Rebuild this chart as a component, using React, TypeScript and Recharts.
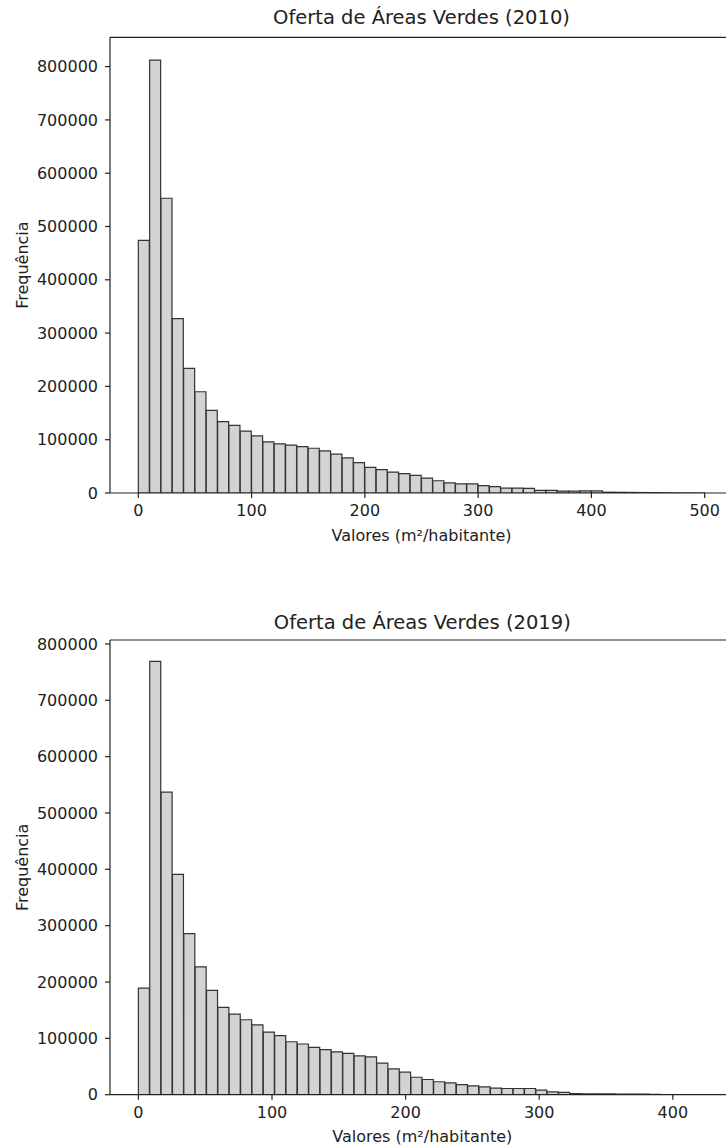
import React from 'react';
import { ComposedChart, Bar, XAxis, YAxis, ReferenceLine, Label } from 'recharts';

// Histogram 2010: bin left edges (width 10)
const binStarts2010 = [
  0, 10, 20, 30, 40, 50, 60, 70, 80, 90,
  100, 110, 120, 130, 140, 150, 160, 170, 180, 190,
  200, 210, 220, 230, 240, 250, 260, 270, 280, 290,
  300, 310, 320, 330, 340, 350, 360, 370, 380, 390,
  400, 410, 420, 430, 440, 450, 460, 470, 480, 490,
];
const binWidth2010 = 10;
const counts2010 = [
  474000, 812000, 553000, 327000, 234000, 190000, 155000, 134000, 127000, 116000,
  107000, 96000, 92000, 90000, 87000, 84000, 79000, 73000, 66000, 57000,
  48000, 44000, 39000, 36500, 33000, 28000, 23000, 19000, 17000, 17000,
  14000, 12000, 9000, 9000, 8500, 5000, 5000, 3500, 3500, 4000,
  4000, 1500, 1300, 1100, 900, 700, 500, 150, 80, 30,
];

// Histogram 2019: bin left edges (width 8.5)
const binStarts2019 = [
  0, 8.5, 17, 25.5, 34, 42.5, 51, 59.5, 68, 76.5,
  85, 93.5, 102, 110.5, 119, 127.5, 136, 144.5, 153, 161.5,
  170, 178.5, 187, 195.5, 204, 212.5, 221, 229.5, 238, 246.5,
  255, 263.5, 272, 280.5, 289, 297.5, 306, 314.5, 323, 331.5,
  340, 348.5, 357, 365.5, 374, 382.5, 391, 399.5, 408, 416.5,
];
const binWidth2019 = 8.5;
const counts2019 = [
  189000, 769000, 537000, 391000, 286000, 227000, 185000, 155000, 143000, 133000,
  124000, 111000, 105000, 94000, 90000, 84000, 80000, 76000, 73500, 69000,
  67000, 56000, 46000, 40000, 31000, 27000, 23000, 21000, 18000, 15500,
  14000, 11500, 11000, 11000, 11000, 8000, 5000, 4000, 2000, 1700,
  1500, 1300, 1200, 1000, 900, 800, 200, 150, 100, 80,
];

const xTicks2010 = [0, 100, 200, 300, 400, 500];
const xTicks2019 = [0, 100, 200, 300, 400];
const yTicks = [0, 100000, 200000, 300000, 400000, 500000, 600000, 700000, 800000];

const FONT = 'DejaVu Sans, Verdana, sans-serif';
const TXT = '#222';

type HistProps = {
  title: string;
  starts: number[];
  binWidth: number;
  counts: number[];
  xDomain: [number, number];
  xTicks: number[];
  yMax: number;
  top: number;
  height: number;
  marginTop: number;
  marginBottom: number;
  marginRight: number;
  titleOffset: number;
};

function Hist(p: HistProps) {
  const data = p.starts.map((s, i) => ({ mid: s + p.binWidth / 2, count: p.counts[i] }));

  const xLabel = (props: any) => {
    const vb = props.viewBox;
    return (
      <text x={vb.x + vb.width / 2} y={vb.y + 42} textAnchor="middle" dominantBaseline="central"
        fontFamily={FONT} fontSize={16} fill={TXT}>Valores (m²/habitante)</text>
    );
  };
  const yLabel = (props: any) => {
    const vb = props.viewBox;
    const cx = 22.7;
    const cy = vb.y + vb.height / 2;
    return (
      <text x={cx} y={cy} textAnchor="middle" dominantBaseline="central"
        transform={`rotate(-90, ${cx}, ${cy})`} fontFamily={FONT} fontSize={16} fill={TXT}>Frequência</text>
    );
  };
  const titleLabel = (props: any) => {
    const vb = props.viewBox;
    return (
      <text x={vb.x + vb.width / 2} y={vb.y - p.titleOffset} textAnchor="middle" dominantBaseline="central"
        fontFamily={FONT} fontSize={19.5} fill={TXT}>{p.title}</text>
    );
  };

  return (
    <div style={{ position: 'absolute', left: 0, top: p.top }}>
      <ComposedChart
        width={760}
        height={p.height}
        data={data}
        barCategoryGap={0}
        barGap={0}
        margin={{ top: p.marginTop, right: p.marginRight, bottom: p.marginBottom, left: 50 }}
      >
        <XAxis
          dataKey="mid"
          type="number"
          domain={p.xDomain}
          ticks={p.xTicks}
          allowDataOverflow
          interval={0}
          height={30}
          tickSize={5}
          tickMargin={7}
          axisLine={{ stroke: TXT, strokeWidth: 1.2 }}
          tickLine={{ stroke: TXT, strokeWidth: 1.2 }}
          tick={{ fill: TXT, fontSize: 16, fontFamily: FONT }}
        >
          <Label content={xLabel} />
        </XAxis>
        <YAxis
          type="number"
          domain={[0, p.yMax]}
          ticks={yTicks}
          allowDataOverflow
          interval={0}
          width={60}
          tickSize={5}
          tickMargin={7}
          axisLine={{ stroke: TXT, strokeWidth: 1.2 }}
          tickLine={{ stroke: TXT, strokeWidth: 1.2 }}
          tick={{ fill: TXT, fontSize: 16, fontFamily: FONT }}
        >
          <Label content={yLabel} />
        </YAxis>
        <Bar dataKey="count" fill="#d3d3d3" stroke="#333" strokeWidth={1.2} isAnimationActive={false} />
        <ReferenceLine y={p.yMax} stroke={TXT} strokeWidth={1.2} ifOverflow="visible">
          <Label content={titleLabel} />
        </ReferenceLine>
      </ComposedChart>
    </div>
  );
}

export default function App() {
  return (
    <div style={{ position: 'absolute', left: 0, top: 0, width: 726, height: 1146, overflow: 'hidden', background: '#fff' }}>
      <Hist
        title="Oferta de Áreas Verdes (2010)"
        starts={binStarts2010}
        binWidth={binWidth2010}
        counts={counts2010}
        xDomain={[-25, 525]}
        xTicks={xTicks2010}
        yMax={855000}
        top={0}
        height={560}
        marginTop={37.3}
        marginBottom={37}
        marginRight={27}
        titleOffset={20}
      />
      <Hist
        title="Oferta de Áreas Verdes (2019)"
        starts={binStarts2019}
        binWidth={binWidth2019}
        counts={counts2019}
        xDomain={[-21.25, 446.25]}
        xTicks={xTicks2019}
        yMax={807000}
        top={600}
        height={546}
        marginTop={40}
        marginBottom={21.3}
        marginRight={25.4}
        titleOffset={18}
      />
    </div>
  );
}
